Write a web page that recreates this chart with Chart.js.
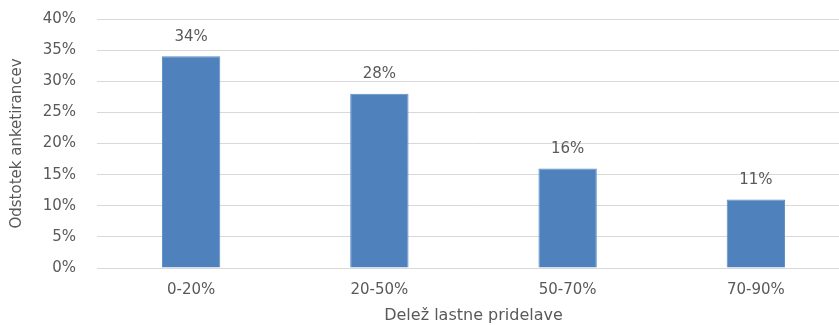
<!DOCTYPE html>
<html>
<head>
<meta charset="utf-8">
<script src="https://cdn.jsdelivr.net/npm/chart.js@4"></script>
<style>
  html, body { margin: 0; padding: 0; background: #fff; overflow: hidden; }
  #wrap { width: 839px; height: 325px; overflow: hidden; }
</style>
</head>
<body>
<div id="wrap"><canvas id="myBarChart" width="850" height="325"></canvas></div>
<script>
// podatki
const kategorije = ["0-20%", "20-50%", "50-70%", "70-90%"];
const odstotki = [34, 28, 16, 11];
const yTicks = [0, 5, 10, 15, 20, 25, 30, 35, 40];

const sivaBesedilo = '#595959';
const mreza = '#D9D9D9';

// oznake nad stolpci
const oznakePlugin = {
  id: 'oznake',
  afterDatasetsDraw(chart) {
    const ctx = chart.ctx;
    const meta = chart.getDatasetMeta(0);
    ctx.save();
    ctx.font = '15px "DejaVu Sans"';
    ctx.fillStyle = sivaBesedilo;
    ctx.textAlign = 'center';
    ctx.textBaseline = 'bottom';
    meta.data.forEach((bar, i) => {
      ctx.fillText(odstotki[i] + '%', bar.x, bar.y - 12);
    });
    ctx.restore();
  }
};

var ctx = document.getElementById("myBarChart");
const myBarChart = new Chart(ctx, {
  type: 'bar',
  data: {
    labels: kategorije,
    datasets: [{
      data: odstotki,
      backgroundColor: '#4F81BD',
      borderColor: '#5B8CC6',
      borderWidth: 1,
      barPercentage: 0.31,
      categoryPercentage: 1.0,
    }],
  },
  options: {
    responsive: false,
    animation: false,
    layout: { padding: { top: 19, left: 0, right: 0, bottom: 0 } },
    plugins: {
      legend: { display: false },
      tooltip: { enabled: false }
    },
    scales: {
      x: {
        grid: { display: false, drawTicks: false },
        border: { display: true, color: mreza, width: 1 },
        ticks: {
          color: sivaBesedilo,
          font: { family: 'DejaVu Sans', size: 15 },
          padding: 13,
          maxRotation: 0
        },
        title: {
          display: true,
          text: 'Delež lastne pridelave',
          color: sivaBesedilo,
          font: { family: 'DejaVu Sans', size: 16 },
          padding: 0
        },
        afterFit(scale) { scale.height = 57; }
      },
      y: {
        min: 0,
        max: 40,
        afterBuildTicks(scale) { scale.ticks = yTicks.map(v => ({ value: v })); },
        grid: { color: mreza, lineWidth: 1, drawTicks: false },
        border: { display: false },
        ticks: {
          color: sivaBesedilo,
          font: { family: 'DejaVu Sans', size: 15 },
          padding: 21,
          callback: (v) => v + '%'
        },
        title: {
          display: true,
          text: 'Odstotek anketirancev',
          color: sivaBesedilo,
          font: { family: 'DejaVu Sans', size: 15 },
          padding: { top: 8, bottom: 0 }
        },
        afterFit(scale) {
          scale.width = 97;
          scale.paddingTop = 0;
          scale.paddingBottom = 0;
        }
      }
    }
  },
  plugins: [oznakePlugin]
});
</script>
</body>
</html>
